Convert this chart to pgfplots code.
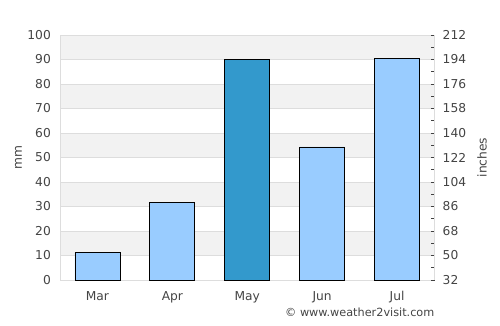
\documentclass[border=0pt]{standalone}
\usepackage{fontspec}
\setmainfont{DejaVu Sans}
\usepackage{pgfplots}
\pgfplotsset{compat=1.18}
\definecolor{lightbar}{HTML}{99CCFF}
\definecolor{darkbar}{HTML}{3399CC}
\definecolor{band}{HTML}{F2F2F2}
\definecolor{gridc}{HTML}{DDDDDD}
\definecolor{txt}{HTML}{444444}
\begin{document}
\begin{tikzpicture}[x=1bp,y=1bp]
\path (0,0) rectangle (500,325);
\begin{axis}[
  set layers,
  at={(60bp,45bp)}, anchor=south west,
  scale only axis, width=374.5bp, height=245bp,
  xmin=-0.5, xmax=4.5, ymin=0, ymax=100,
  xtick={0,1,2,3,4}, xticklabels={Mar,Apr,May,Jun,Jul},
  ytick={0,10,...,100},
  ymajorgrids, grid style={gridc, line width=0.8bp},
  axis line style={gridc, line width=0.8bp},
  major tick length=0pt,
  tick label style={font=\fontsize{12.3}{14}\selectfont, text=txt, inner sep=0pt},
  yticklabel style={anchor=east, xshift=-9bp},
  xticklabel style={anchor=base, yshift=-20bp},
  /pgf/number format/assume math mode=true,
  ylabel={mm},
  ylabel style={font=\fontsize{12.3}{14}\selectfont, text=txt, at={(axis description cs:0,0.5)}, anchor=center, yshift=41.5bp},
]
\begin{pgfonlayer}{axis background}
\fill[band] (axis cs:-0.5,10) rectangle (axis cs:4.5,20);
\fill[band] (axis cs:-0.5,30) rectangle (axis cs:4.5,40);
\fill[band] (axis cs:-0.5,50) rectangle (axis cs:4.5,60);
\fill[band] (axis cs:-0.5,70) rectangle (axis cs:4.5,80);
\fill[band] (axis cs:-0.5,90) rectangle (axis cs:4.5,100);
\end{pgfonlayer}
\addplot[ybar, bar shift=0pt, bar width=45bp, fill=lightbar, draw=black, line width=0.8bp]
  coordinates {(0,11.3) (1,31.7) (3,54.3) (4,90.6)};
\addplot[ybar, bar shift=0pt, bar width=45bp, fill=darkbar, draw=black, line width=0.8bp]
  coordinates {(2,90.2)};
\end{axis}
\begin{axis}[
  at={(60bp,45bp)}, anchor=south west,
  scale only axis, width=374.5bp, height=245bp,
  xmin=-0.5, xmax=4.5, ymin=32, ymax=212,
  axis x line=none, axis y line*=right,
  ytick={32,50,...,212}, minor ytick={41,59,...,203},
  axis line style={gridc, line width=0.8bp},
  ytick align=inside,
  major tick length=3.5bp, minor tick length=3.5bp,
  tick style={black!75, line width=0.7bp},
  tick label style={font=\fontsize{12.3}{14}\selectfont, text=txt, inner sep=0pt},
  yticklabel style={anchor=west, xshift=8bp},
  /pgf/number format/assume math mode=true,
  ylabel={inches},
  ylabel style={font=\fontsize{12.3}{14}\selectfont, text=txt, at={(axis description cs:1,0.5)}, anchor=center, yshift=-47.5bp},
]
\end{axis}
\node[anchor=east, font=\fontsize{11.3}{13}\selectfont, text=txt, inner sep=0pt] at (434.5,12.5) {© www.weather2visit.com};
\end{tikzpicture}
\end{document}
